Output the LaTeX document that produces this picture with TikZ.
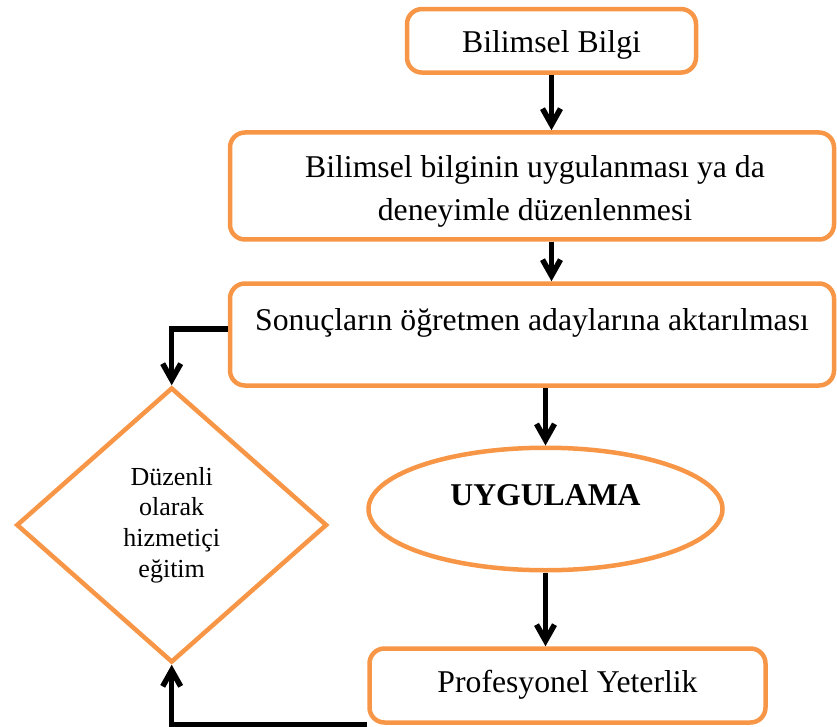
\documentclass[tikz,border=0pt]{standalone}
\usepackage{fontspec}
\setmainfont{Liberation Serif}
\usetikzlibrary{arrows.meta,shapes.geometric,calc}
\definecolor{flowline}{HTML}{F79646}
\begin{document}
\begin{tikzpicture}[x=1pt,y=-1pt,
  box/.style={draw=flowline, line width=4.5pt, rounded corners=15pt, inner sep=0pt,
    font=\fontsize{31.7}{38}\selectfont},
  oval/.style={draw=flowline, line width=4.5pt, ellipse, inner sep=0pt,
    font=\fontsize{31.7}{38}\selectfont\bfseries},
  decision/.style={draw=flowline, line width=4.5pt, diamond, inner sep=0pt, align=center,
    font=\fontsize{26}{30.8}\selectfont},
  flow/.style={line width=5.5pt, -{Straight Barb[length=16pt,width=18pt]}},
]
\useasboundingbox (0,0) rectangle (837,727);

% process boxes
\node[box, minimum width=289pt, minimum height=63.5pt, text height=26pt, text depth=1.6pt]
  (b1) at (551.5,40.8) {Bilimsel Bilgi};
\node[box, minimum width=604pt, minimum height=107pt] (b2) at (532,186) {};
\node[align=center, inner sep=0pt, font=\fontsize{31.7}{43}\selectfont]
  (b2text) at (535,191.6) {Bilimsel bilginin uygulanması ya da\\deneyimle düzenlenmesi};
\node[box, minimum width=604pt, minimum height=102pt, text height=22pt, text depth=31pt]
  (b3) at (532,334.5) {Sonuçların öğretmen adaylarına aktarılması};
\node[oval, minimum width=354pt, minimum height=122.5pt, text height=22pt, text depth=30pt]
  (e) at (545.5,509) {UYGULAMA};
\node[box, minimum width=396pt, minimum height=74pt, text height=22pt, text depth=9pt]
  (b5) at (567.5,685.5) {Profesyonel Yeterlik};

% feedback decision
\node[decision, minimum width=310.7pt, minimum height=275pt]
  (d) at (171.7,525) {Düzenli\\olarak\\hizmetiçi\\eğitim};

% main flow
\draw[flow] (b1.south) -- (b1.south |- b2.north);
\draw[flow] (b1.south |- b2.south) -- (b1.south |- b3.north);
\draw[flow] (e.north |- b3.south) -- (e.north);
\draw[flow] (e.south) -- (e.south |- b5.north);

% side loop through the in-service training
\coordinate (fromB3) at ($(b3.west)+(0,-5.5)$);
\draw[flow] (fromB3) -| (d.north);
\coordinate (fromB5) at (b5.south west);
\draw[flow] (fromB5) -| (d.south);
\end{tikzpicture}
\end{document}
